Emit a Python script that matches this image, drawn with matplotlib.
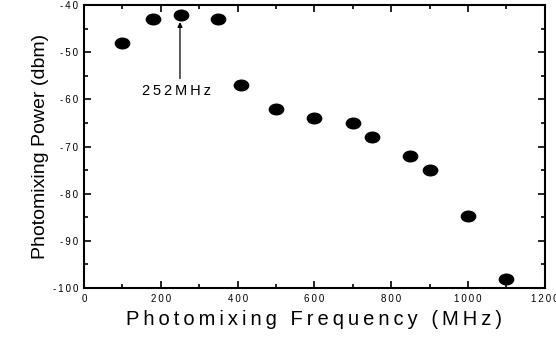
import numpy as np
import matplotlib
matplotlib.use("Agg")
import matplotlib.pyplot as plt
from matplotlib.path import Path
from matplotlib.transforms import Affine2D
from matplotlib.ticker import MultipleLocator

plt.rcParams['font.family'] = ['Liberation Sans', 'DejaVu Sans']

freq = [100, 180, 252, 350, 410, 500, 600, 700, 750, 850, 900, 1000, 1100]
power = [-48, -43, -42, -43, -57, -62, -64, -65, -68, -72, -75, -84.8, -98]
xticks = [0, 200, 400, 600, 800, 1000, 1200]
yticks = [-100, -90, -80, -70, -60, -50, -40]

def spaced(s):
    # wide letter spacing like the original
    return '\u2009'.join(s)

ellipse = Path.unit_circle().transformed(Affine2D().scale(1.35, 1.0))

fig = plt.figure(figsize=(5.56, 3.40), dpi=100)
ax = fig.add_axes([0.151, 0.153, 0.829, 0.832])
ax.plot(freq, power, linestyle='none', marker=ellipse, markersize=10.3,
        color='black')

ax.set_xlim(0, 1200)
ax.set_ylim(-100, -40)
ax.set_xticks(xticks)
ax.set_yticks(yticks)
ax.set_xticklabels([spaced(str(t)) for t in xticks], fontsize=7)
ax.set_yticklabels([spaced(str(t)) for t in yticks], fontsize=7)
ax.xaxis.set_minor_locator(MultipleLocator(100))
ax.yaxis.set_minor_locator(MultipleLocator(5))
ax.tick_params(which='both', direction='in', top=True, right=True, width=1.2)
ax.tick_params(which='major', length=5, pad=4)
ax.tick_params(which='minor', length=3)
for s in ax.spines.values():
    s.set_linewidth(1.5)

ax.set_xlabel(spaced('Photomixing Frequency (MHz)'), fontsize=14.5, labelpad=5)
ax.set_ylabel('Photomixing Power (dbm)', fontsize=14, labelpad=3)

# label and vertical arrow to the 252 MHz peak
ax.text(240, -58.3, spaced('252MHz'), ha='center', va='center', fontsize=10.5)
ax.annotate('', xy=(250, -43.6), xytext=(250, -55.6),
            arrowprops=dict(arrowstyle='-|>', color='black', lw=0.9,
                            mutation_scale=7, shrinkA=0, shrinkB=0))

fig.savefig('out.png', dpi=100)
